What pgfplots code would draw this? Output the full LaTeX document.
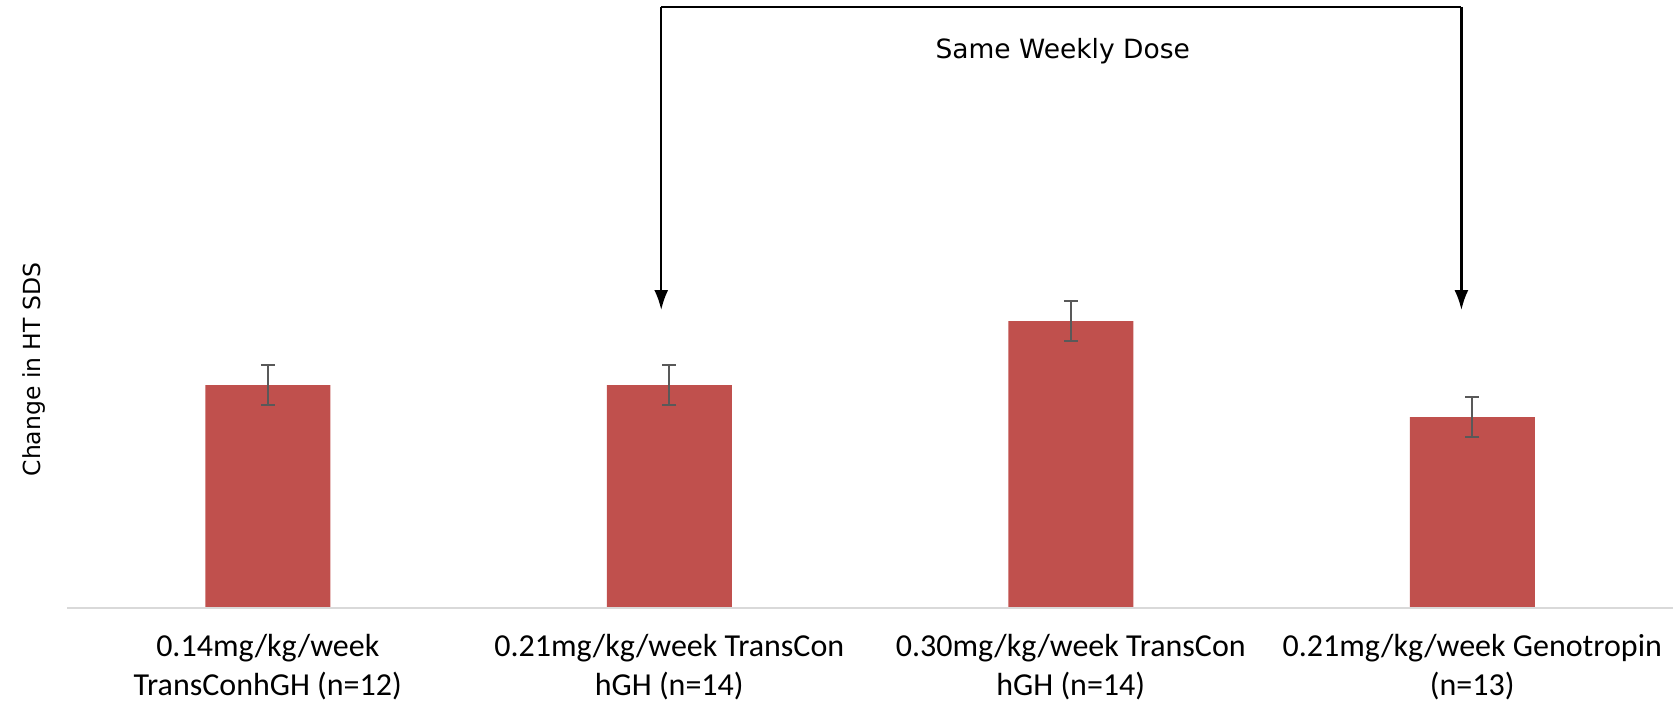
\documentclass[border=0pt]{standalone}
\usepackage{pgfplots}
\pgfplotsset{compat=1.18}
\usetikzlibrary{arrows.meta}
\usepackage{fontspec}
\setmainfont{Carlito}
\newfontfamily\verd{DejaVu Sans}
\definecolor{barred}{HTML}{C0504D}
\definecolor{errgray}{HTML}{595959}
\definecolor{axgray}{HTML}{D9D9D9}
\tikzset{
    cat/.style={anchor=north, align=center, font=\fontsize{32}{38.5}\selectfont, inner sep=0pt},
    arr/.style={black, line width=2.2pt, -{Latex[length=20pt,width=14pt]}},
}

\begin{document}
\begin{tikzpicture}
\begin{axis}[
    name=main,
    scale only axis,
    width=1606pt, height=600.5pt,
    xmin=-0.5, xmax=3.5,
    ymin=0, ymax=600.5,
    axis lines=none,
    xtick=\empty,
    ytick=\empty,
    clip=false,
]
\addplot[ybar, bar width=125pt, fill=barred, draw=none,
    error bars/.cd, y dir=both, y explicit,
    error bar style={errgray, line width=2pt},
    error mark options={errgray, line width=2pt, mark size=7pt, rotate=90}]
    table[y error=e] {
    x y e
    0 222.5 20
    1 222.5 20
    2 286.5 20
    3 190.5 20
};
% axis line
\draw[axgray, line width=2pt] (axis cs:-0.5,0) -- (axis cs:3.5,0);
% category labels
\node[cat] at ([yshift=-27pt]axis cs:0,0) {0.14mg/kg/week\\TransConhGH (n=12)};
\node[cat] at ([yshift=-27pt]axis cs:1,0) {0.21mg/kg/week TransCon\\hGH (n=14)};
\node[cat] at ([yshift=-27pt]axis cs:2,0) {0.30mg/kg/week TransCon\\hGH (n=14)};
\node[cat] at ([yshift=-27pt]axis cs:3,0) {0.21mg/kg/week Genotropin\\(n=13)};
% bracket
\draw[black, line width=2.2pt] (axis cs:0.98,600.5) -- (axis cs:2.973,600.5);
\draw[arr] (axis cs:2.973,600.5) -- (axis cs:2.973,297.5);
\draw[arr] (axis cs:0.98,600.5) -- (axis cs:0.98,297.5);
\node[font=\verd\fontsize{26.5}{31}\selectfont] at (axis cs:1.98,556.5) {Same Weekly Dose};
% y label
\node[rotate=90, font=\verd\fontsize{23.5}{28}\selectfont] at ([xshift=-33pt]axis cs:-0.5,238) {Change in HT SDS};
\end{axis}
\pgfresetboundingbox
\path ([xshift=-67pt,yshift=-97.5pt]main.south west) rectangle ([xshift=4pt,yshift=7pt]main.north east);
\end{tikzpicture}
\end{document}
